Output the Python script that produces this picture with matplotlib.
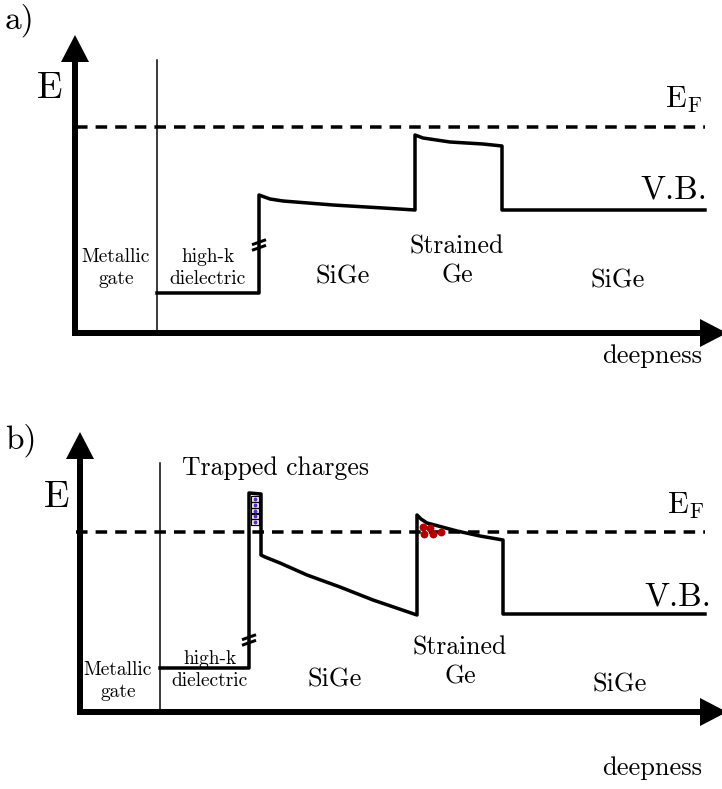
#!/usr/bin/env python3
# Band diagram sketch: a) without and b) with trapped charges
import matplotlib.pyplot as plt
import matplotlib.patches as mpatches

plt.rcParams['font.family'] = ['cmr10', 'DejaVu Serif']
plt.rcParams['mathtext.fontset'] = 'cm'

# ---- panel a) valence band profile (pixel coords of the picture) ----
band_a_x = [157, 259, 259, 270, 283, 333, 383, 415,
            415, 423, 450, 483, 502, 502, 705]
band_a_y = [293, 293, 195, 199, 201, 205, 208, 210,
            135, 138, 142, 144, 146, 210, 210]
ef_a = 127

# ---- panel b) valence band profile ----
band_b_x = [160, 249, 249, 261, 261, 265, 280, 307, 340, 373, 417,
            417, 421, 427, 457, 480, 503, 503, 705]
band_b_y = [668, 668, 493, 494, 555, 557, 563, 575, 587, 600, 615,
            515, 519, 523, 531, 536, 540, 614, 614]
ef_b = 532

# trapped charges in the dielectric (b)
trap_y = [499, 505, 511, 516, 522]
# holes in strained Ge (b)
hole_x = [423, 430, 424, 433, 441]
hole_y = [527, 528, 534, 534, 532]

labels_a = [('Metallic\ngate', 116, 268, 14), ('high-k\ndielectric', 208, 268, 14),
            ('SiGe', 343, 277, 19), ('Strained\nGe', 457, 261, 18.5),
            ('SiGe', 618, 281, 19)]
labels_b = [('Metallic\ngate', 118, 681, 14), ('high-k\ndielectric', 210, 670, 14),
            ('SiGe', 335, 680, 19), ('Strained\nGe', 460, 662, 18.5),
            ('SiGe', 620, 685, 19)]

PX = 0.72  # pixels -> points at dpi 100


def axes_arrows(ax, x0, y0, ytop, xright):
    ax.plot([x0, x0], [y0 + 3, ytop + 25], color='black', lw=6 * PX, solid_capstyle='butt')
    ax.plot([x0 - 3, xright - 20], [y0, y0], color='black', lw=6 * PX, solid_capstyle='butt')
    ax.fill([x0 - 14, x0 + 14, x0], [ytop + 27, ytop + 27, ytop], color='black', lw=0)
    ax.fill([xright - 22, xright - 22, xright + 5], [y0 - 14, y0 + 14, y0], color='black', lw=0)


def break_marks(ax, x, y):
    for dy in (-2.8, 2.8):
        ax.plot([x - 7, x + 7], [y + dy + 2.5, y + dy - 2.5], color='black', lw=3 * PX,
                solid_capstyle='butt')


def panel(ax, bx, by, ef, x0, y0, ytop, xgate, gate_top, labels, tag, tag_y,
          e_pos, ef_pos, vb_pos, deep_y, brk):
    axes_arrows(ax, x0, y0, ytop, 722)
    ax.plot([xgate, xgate], [gate_top, y0], color='black', lw=1.5 * PX)
    ax.plot([76, 705], [ef, ef], color='black', lw=3.5 * PX, dashes=(3.3, 2.3))
    ax.plot(bx, by, color='black', lw=3.5 * PX, solid_joinstyle='round')
    break_marks(ax, *brk)
    ax.text(5, tag_y, tag, fontsize=24, ha='left', va='center')
    ax.text(e_pos[0], e_pos[1], 'E', fontsize=27, ha='center', va='center')
    ax.text(ef_pos[0], ef_pos[1], r'$\mathrm{E}_{\mathrm{F}}$', fontsize=22, ha='center', va='center')
    ax.text(vb_pos[0], vb_pos[1], 'V.B.', fontsize=24, ha='center', va='center')
    ax.text(652, deep_y, 'deepness', fontsize=19, ha='center', va='center')
    for s, x, y, fs in labels:
        ax.text(x, y, s, fontsize=fs, ha='center', va='center', linespacing=1.25)


fig = plt.figure(figsize=(7.22, 7.89), dpi=100)
ax = fig.add_axes([0, 0, 1, 1])
ax.set_xlim(0, 722)
ax.set_ylim(789, 0)
ax.axis('off')

panel(ax, band_a_x, band_a_y, ef_a, 75, 333, 35, 157, 60, labels_a, 'a)', 20,
      (50, 88), (684, 100), (674, 190), 356, (259, 245))
panel(ax, band_b_x, band_b_y, ef_b, 80, 712, 432, 160, 463, labels_b, 'b)', 440,
      (57, 497), (686, 506), (678, 597), 768, (249, 640))

# trapped charges
for y in trap_y:
    ax.add_patch(mpatches.Rectangle((251, y - 3), 8, 6, fill=False, ec='black', lw=1.2 * PX))
ax.scatter([255] * len(trap_y), trap_y, s=8, color='#5a2ad0', zorder=5, lw=0)
ax.scatter(hole_x, hole_y, s=32, color='#b40000', zorder=5, lw=0)
ax.text(275, 468, 'Trapped charges', fontsize=18.5, ha='center', va='center')

fig.savefig('out.png', dpi=100)
